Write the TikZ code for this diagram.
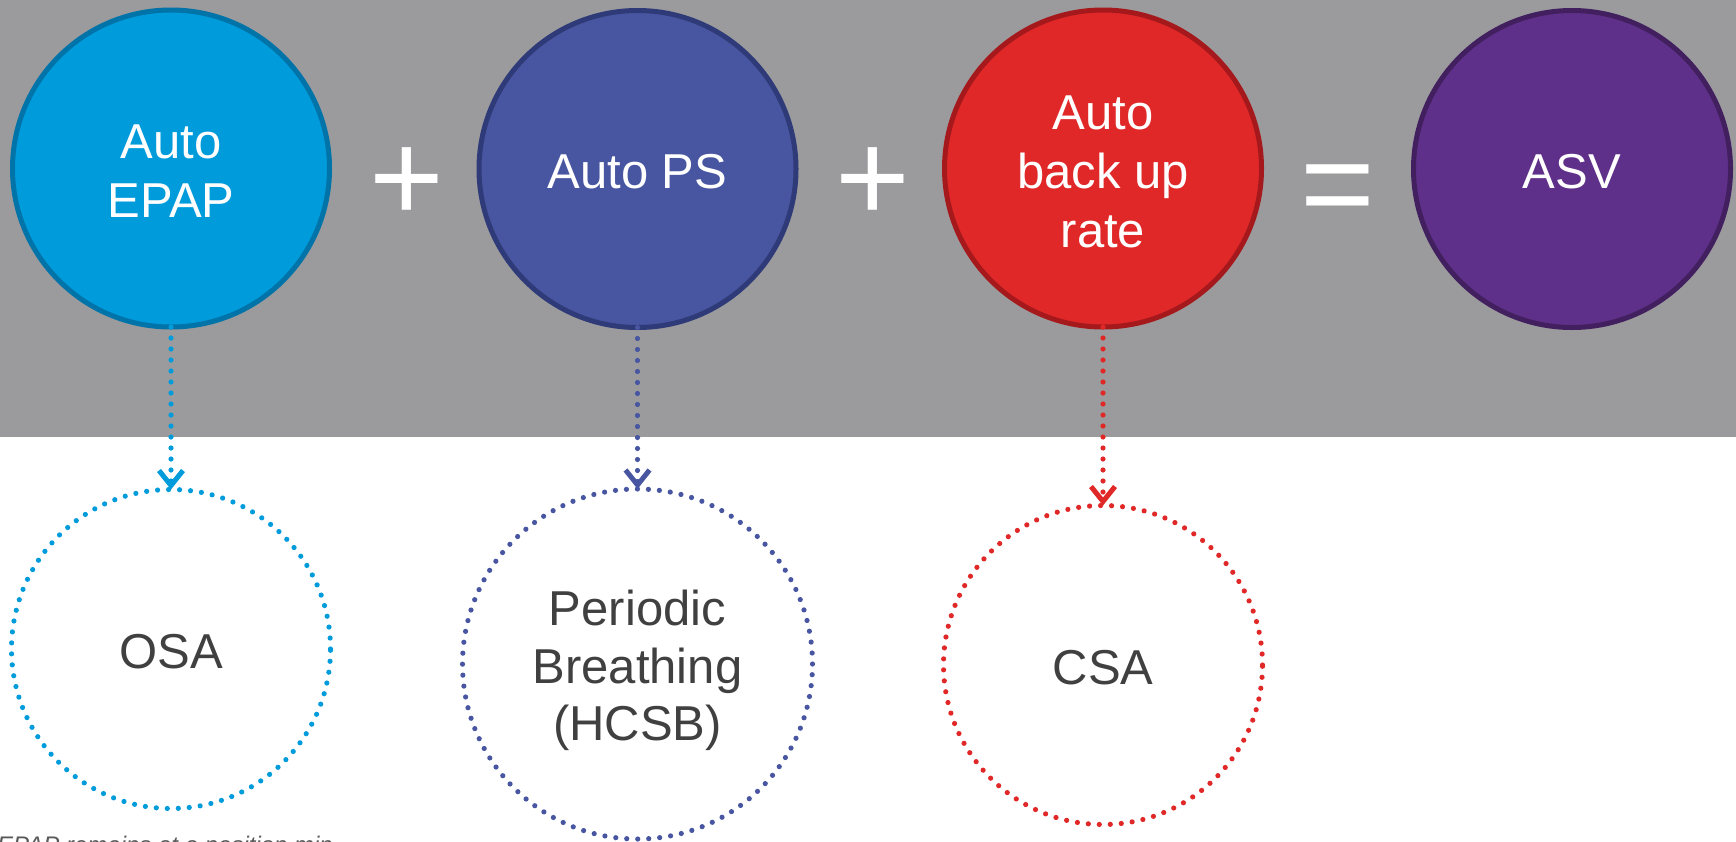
\documentclass[tikz,border=0pt]{standalone}
\usepackage{fontspec}
\setmainfont{Liberation Sans}
\usetikzlibrary{arrows.meta}

\definecolor{bandgray}{HTML}{9B9B9D}
\definecolor{labelgray}{HTML}{404040}
\definecolor{notegray}{HTML}{595959}
\definecolor{epapfill}{HTML}{009BDB}
\definecolor{epapline}{HTML}{0073A8}
\definecolor{psfill}{HTML}{4856A1}
\definecolor{psline}{HTML}{2F3A78}
\definecolor{ratefill}{HTML}{E02828}
\definecolor{rateline}{HTML}{A5191C}
\definecolor{asvfill}{HTML}{5F3089}
\definecolor{asvline}{HTML}{42205F}

\begin{document}
\begin{tikzpicture}[x=1pt,y=-1pt,
  bigtext/.style={font=\fontsize{49}{59}\selectfont, align=center,
    inner sep=0pt},
  mode/.style={circle, minimum size=317pt, inner sep=0pt,
    outer sep=0pt, line width=5pt},
  modetext/.style={bigtext, text=white},
  effect/.style={circle, inner sep=0pt, outer sep=0pt,
    line width=5.2pt, line cap=round, dash pattern=on 0pt off 11pt},
  effecttext/.style={bigtext, text=labelgray},
  link/.style={line width=5.2pt, line cap=round,
    dash pattern=on 0pt off 11pt,
    -{Straight Barb[length=15pt,width=24pt,line width=5pt]}},
  operator/.style={text=white, font=\fontsize{128}{128}\selectfont,
    inner sep=0pt, anchor=base}]
\useasboundingbox (0,0) rectangle (1736,841);

% grey band behind the equation row
\fill[bandgray] (0,0) rectangle (1736,437);

% equation row
\node[mode, fill=epapfill, draw=epapline] (epap) at (171,168.5) {};
\node[mode, fill=psfill, draw=psline] (ps) at (637.5,169) {};
\node[mode, fill=ratefill, draw=rateline] (rate) at (1103,168.5) {};
\node[mode, fill=asvfill, draw=asvline] (asv) at (1572,169) {};

\node[modetext] (epaplabel) at ([yshift=-3pt]epap.center) {Auto\\EPAP};
\node[modetext] (pslabel) at ([yshift=-3pt]ps.center) {Auto PS};
\node[modetext] (ratelabel) at ([yshift=-3pt]rate.center) {Auto\\back up\\rate};
\node[modetext] (asvlabel) at ([yshift=-3pt]asv.center) {ASV};

\node[operator] (plusA) at (406.5,221) {+};
\node[operator] (plusB) at (872.5,221) {+};
\node[operator] (equal) at (1338,227) {=};

% what each component treats
\node[effect, minimum size=319pt, draw=epapfill] (osa) at (171,649) {};
\node[effect, minimum size=350pt, draw=psfill] (hcsb) at (637.5,664) {};
\node[effect, minimum size=319pt, draw=ratefill] (csa) at (1103,665) {};

\node[effecttext] (osalabel) at ([yshift=-3pt]osa.center) {OSA};
\node[effecttext, font=\fontsize{49}{57.5}\selectfont] (hcsblabel)
  at ([yshift=-6.5pt]hcsb.center) {Periodic\\Breathing\\(HCSB)};
\node[effecttext] (csalabel) at ([yshift=-3pt]csa.center) {CSA};

\draw[link, draw=epapfill] (epap.south) -- (osa.north);
\draw[link, draw=psfill] (ps.south) -- (hcsb.north);
\draw[link, draw=ratefill] (rate.south) -- (csa.north);

% footnote running off the lower edge
\node[anchor=base west, inner sep=0pt, text=notegray,
  font=\fontsize{24}{28}\selectfont\itshape] (note) at (-3,853.5)
  {EPAP remains at a position min};
\end{tikzpicture}
\end{document}
